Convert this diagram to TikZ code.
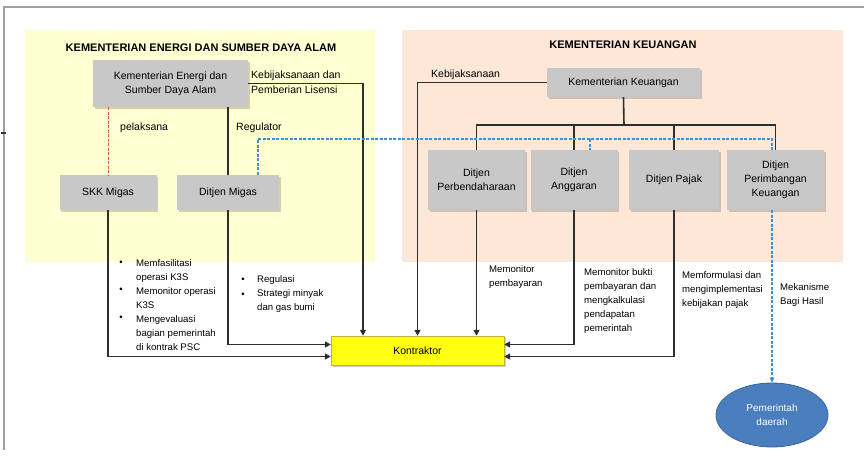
\documentclass[tikz,border=0pt]{standalone}
\usepackage{fontspec}
\setmainfont{Liberation Sans}
\usetikzlibrary{shadows,arrows.meta,shapes.geometric}
\definecolor{bgyellow}{HTML}{FFFFD2}
\definecolor{bgpeach}{HTML}{FDE8D8}
\definecolor{boxgray}{HTML}{C8C8C8}
\definecolor{linec}{HTML}{2E2E2E}
\definecolor{bluel}{HTML}{3D8FD6}
\definecolor{redl}{HTML}{D0603E}
\definecolor{ellblue}{HTML}{4A7EBF}
\definecolor{kyellow}{HTML}{FFFF10}
\begin{document}
\begin{tikzpicture}[x=1pt,y=-1pt,
  box/.style={fill=boxgray, draw=none, align=center, inner sep=0pt,
    font=\fontsize{10.5}{14}\selectfont,
    drop shadow={shadow xshift=1.5pt,shadow yshift=-1.5pt,fill=black,opacity=0.18}},
  conn/.style={draw=linec, line width=1.6pt},
  arr/.style={conn, -{Triangle[length=6pt,width=6pt]}},
  bdash/.style={draw=bluel, line width=1.1pt, dash pattern=on 3pt off 1.5pt},
  lbl/.style={inner sep=0pt, font=\fontsize{10.5}{15}\selectfont, align=left},
  ann/.style={inner sep=0pt, font=\fontsize{9.6}{14}\selectfont, align=left},
  ttl/.style={inner sep=0pt, font=\bfseries\fontsize{11}{12}\selectfont}]
\useasboundingbox (0,0) rectangle (864,455);
% frame
\draw[gray!75, line width=1.2pt] (4,450) -- (4,7) -- (864,7);
\draw[gray!40!black, line width=1.2pt] (1,133) -- (6,133);
% backgrounds
\fill[bgyellow] (25,30) rectangle (375,262);
\fill[bgpeach] (402,30) rectangle (843,262);
% titles
\node[ttl] (t1) at (201,48) {KEMENTERIAN ENERGI DAN SUMBER DAYA ALAM};
\node[ttl] (t2) at (623,45) {KEMENTERIAN KEUANGAN};
% boxes
\node[box, minimum width=155pt, minimum height=47pt] (kesdm) at (170.5,83.5) {Kementerian Energi dan\\Sumber Daya Alam};
\node[box, minimum width=97pt, minimum height=35pt] (skk) at (108,192.5) {SKK Migas};
\node[box, minimum width=102pt, minimum height=35pt] (migas) at (228,192.5) {Ditjen Migas};
\node[box, minimum width=153pt, minimum height=29pt] (kemkeu) at (623.5,82.5) {Kementerian Keuangan};
\node[box, minimum width=97pt, minimum height=60pt] (perb) at (476.5,180) {Ditjen\\Perbendaharaan};
\node[box, minimum width=87pt, minimum height=60pt] (angg) at (574,180) {Ditjen\\Anggaran};
\node[box, minimum width=90pt, minimum height=60pt] (pajak) at (674,180) {Ditjen Pajak};
\node[box, minimum width=97pt, minimum height=60pt] (perim) at (775.5,180) {Ditjen\\Perimbangan\\Keuangan};
\node[box, fill=kyellow, draw=yellow!70!black, line width=0.4pt, minimum width=173pt, minimum height=29pt] (kontr) at (417.5,350.5) {Kontraktor};
\node[ellipse, fill=ellblue, draw=ellblue!80!black, line width=0.8pt, minimum width=112pt, minimum height=64pt, inner sep=0pt, align=center, text=white, font=\fontsize{10}{14}\selectfont] (ell) at (772,415) {Pemerintah\\daerah};
% coordinates
\coordinate (bus) at (624,125);
\coordinate (bl) at (0,139);
% connectors left
\draw[redl, line width=1pt, dash pattern=on 3pt off 1.5pt] (kesdm.south -| skk.north) -- (skk.north);
\draw[conn] (kesdm.south -| migas.north) -- (migas.north);
\draw[arr] (kesdm.east) -| ([xshift=-54.5pt]kontr.north);
\draw[arr] (skk.south) |- ([yshift=-6pt]kontr.west);
\draw[arr] (migas.south) |- ([yshift=6pt]kontr.west);
% connectors right
\draw[arr] (kemkeu.west) -| (kontr.north);
\draw[conn] (kemkeu.south) -- (bus);
\draw[conn] (perb.north) -- (perb.north |- bus) -- (perim.north |- bus) -- (perim.north);
\draw[conn] (angg.north) -- (angg.north |- bus);
\draw[conn] (pajak.north) -- (pajak.north |- bus);
\draw[arr] (perb.south) -- (perb.south |- kontr.north);
\draw[arr] (angg.south) |- ([yshift=6pt]kontr.east);
\draw[arr] (pajak.south) |- ([yshift=-6pt]kontr.east);
% blue dashed
\draw[bdash] ([xshift=30pt]migas.north) -- ([xshift=30pt]migas.north |- bl) -| ([xshift=-3.5pt]perim.north);
\draw[bdash] ([xshift=16pt]angg.north |- bl) -- ([xshift=16pt]angg.north);
\draw[bdash, -{Triangle[length=5pt,width=5pt]}] ([xshift=-3.5pt]perim.south) -- (ell.north);
% labels
\node[lbl, anchor=west] (l1) at (251,82.5) {Kebijaksanaan dan\\Pemberian Lisensi};
\node[lbl, anchor=west] (l2) at (431,74.5) {Kebijaksanaan};
\node[lbl, anchor=west] (l3) at (120,128) {pelaksana};
\node[lbl, anchor=west] (l4) at (236,128) {Regulator};
% annotations
\node[ann] (b1) at (121,263) {•};
\node[ann] (b2) at (121,290) {•};
\node[ann] (b3) at (121,318) {•};
\node[ann, anchor=west] (a1) at (136,305) {Memfasilitasi\\operasi K3S\\Memonitor operasi\\K3S\\Mengevaluasi\\bagian pemerintah\\di kontrak PSC};
\node[ann] (b4) at (243,280) {•};
\node[ann] (b5) at (243,295) {•};
\node[ann, anchor=west] (a2) at (257,294.5) {Regulasi\\Strategi minyak\\dan gas bumi};
\node[ann, anchor=west] (a3) at (489,277.5) {Memonitor\\pembayaran};
\node[ann, anchor=west] (a4) at (584,301.5) {Memonitor bukti\\pembayaran dan\\mengkalkulasi\\pendapatan\\pemerintah};
\node[ann, anchor=west] (a5) at (682,290.5) {Memformulasi dan\\mengimplementasi\\kebijakan pajak};
\node[ann, anchor=west] (a6) at (780,295) {Mekanisme\\Bagi Hasil};
\end{tikzpicture}
\end{document}
